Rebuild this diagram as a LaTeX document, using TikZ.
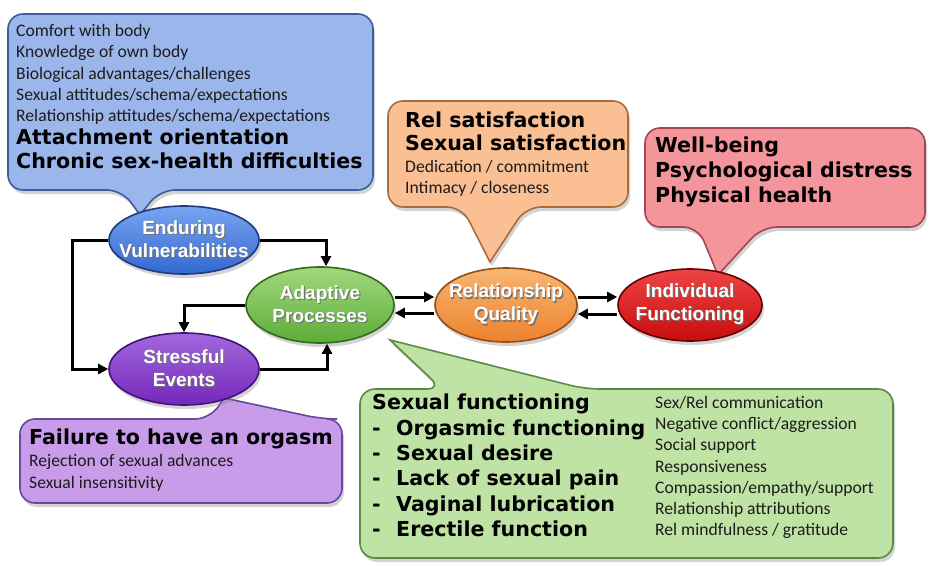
\documentclass[tikz,border=0pt]{standalone}
\usepackage{fontspec}
\setmainfont{Carlito}
\newfontfamily\heavyfont{DejaVu Sans}
\newfontfamily\blobfont{Liberation Sans}
\usetikzlibrary{shapes.geometric,shadows,arrows.meta}

% fills and outlines
\definecolor{evFill}{HTML}{3468D0}
\definecolor{evTop}{HTML}{78A4F0}
\definecolor{evLine}{HTML}{1C3A7E}
\definecolor{apFill}{HTML}{5CAC3A}
\definecolor{apTop}{HTML}{A2D87C}
\definecolor{apLine}{HTML}{356A1C}
\definecolor{seFill}{HTML}{7428BA}
\definecolor{seTop}{HTML}{A268DE}
\definecolor{seLine}{HTML}{421476}
\definecolor{rqFill}{HTML}{EC822C}
\definecolor{rqTop}{HTML}{F8B674}
\definecolor{rqLine}{HTML}{964C16}
\definecolor{ifFill}{HTML}{C80C0C}
\definecolor{ifTop}{HTML}{EE4444}
\definecolor{ifLine}{HTML}{660000}
\definecolor{blueBox}{HTML}{9BB6EA}
\definecolor{blueEdge}{HTML}{3E5C9C}
\definecolor{peachBox}{HTML}{FAC094}
\definecolor{peachEdge}{HTML}{A86C3E}
\definecolor{pinkBox}{HTML}{F4959C}
\definecolor{pinkEdge}{HTML}{A34652}
\definecolor{lilacBox}{HTML}{C99CEA}
\definecolor{lilacEdge}{HTML}{67489A}
\definecolor{mintBox}{HTML}{BEE3A4}
\definecolor{mintEdge}{HTML}{5B8B42}
\definecolor{ink}{HTML}{1C1C1C}

% white label with a soft dark offset copy behind it
\newcommand\shadedlabel[1]{\leavevmode\rlap{\kern1.2pt\raisebox{-1.2pt}{\textcolor{black!55}{#1}}}#1}

\tikzset{
  callout/.style={line width=1.6pt, rounded corners=15pt,
    drop shadow={opacity=0.35, shadow xshift=2pt, shadow yshift=-4pt}},
  blob/.style={ellipse, line width=1.6pt, inner xsep=-16pt, inner ysep=-4pt, align=center,
    text=white, font=\blobfont\bfseries\fontsize{19}{23}\selectfont,
    drop shadow={opacity=0.35, shadow xshift=2pt, shadow yshift=-4pt}},
  smalltext/.style={anchor=north west, inner sep=0pt, align=left, text=ink,
    font=\fontsize{17.6}{21.3}\selectfont},
  boldtext/.style={anchor=north west, inner sep=0pt, align=left, text=black,
    font=\heavyfont\bfseries\fontsize{20.6}{24}\selectfont},
  arr/.style={line width=3pt, -{Triangle[length=10pt,width=10pt]}},
}

\begin{document}
\begin{tikzpicture}[x=1pt,y=-1pt]
\useasboundingbox (0,0) rectangle (929,565);

% ---------- callouts (tails run under the ellipses) ----------
\draw[callout, fill=blueBox, draw=blueEdge]
  (140,215) -- (122,190) -- (8,190) -- (8,14) -- (373,14) -- (373,190) -- (160,190) [sharp corners] -- cycle;
\draw[callout, fill=peachBox, draw=peachEdge]
  (490,262) -- (462,207) -- (388,207) -- (388,101) -- (628,101) -- (628,207) -- (526,207) [sharp corners] -- cycle;
\draw[callout, fill=pinkBox, draw=pinkEdge]
  (718,275) -- (698,227) -- (645,227) -- (645,128) -- (925,128) -- (925,227) -- (762,227) [sharp corners] -- cycle;
\draw[callout, fill=lilacBox, draw=lilacEdge]
  (224,398) -- (322,419) -- (342,419) -- (342,503) -- (20,503) -- (20,419) -- (210,419) [sharp corners] -- cycle;
\draw[callout, fill=mintBox, draw=mintEdge]
  (390,340) -- (585,389) -- (893,389) -- (893,558) -- (360,558) -- (360,389) -- (442,389) [sharp corners] -- cycle;

% ---------- callout texts ----------
\node[smalltext] (evlist) at (16,24) {Comfort with body\\Knowledge of own body\\Biological advantages/challenges\\Sexual attitudes/schema/expectations\\Relationship attitudes/schema/expectations};
\node[boldtext] (evkey) at (16,129) {Attachment orientation\\Chronic sex-health difficulties};

\node[boldtext, font=\heavyfont\bfseries\fontsize{20.6}{23}\selectfont] (rqkey) at (405,112) {Rel satisfaction\\Sexual satisfaction};
\node[smalltext, font=\fontsize{17.6}{21}\selectfont] (rqlist) at (405,160) {Dedication / commitment\\Intimacy / closeness};

\node[boldtext, font=\heavyfont\bfseries\fontsize{20.6}{25}\selectfont] (ifkey) at (655,137) {Well-being\\Psychological distress\\Physical health};

\node[boldtext] (sekey) at (29,429) {Failure to have an orgasm};
\node[smalltext, font=\fontsize{17.6}{22}\selectfont] (selist) at (29,454) {Rejection of sexual advances\\Sexual insensitivity};

\node[boldtext, font=\heavyfont\bfseries\fontsize{20.6}{25.3}\selectfont] (apkey) at (372,394)
  {Sexual functioning\\
   \makebox[24pt][l]{-}Orgasmic functioning\\
   \makebox[24pt][l]{-}Sexual desire\\
   \makebox[24pt][l]{-}Lack of sexual pain\\
   \makebox[24pt][l]{-}Vaginal lubrication\\
   \makebox[24pt][l]{-}Erectile function};
\node[smalltext, font=\fontsize{17.6}{21.2}\selectfont] (aplist) at (655,396)
  {Sex/Rel communication\\Negative conflict/aggression\\Social support\\Responsiveness\\Compassion/empathy/support\\Relationship attributions\\Rel mindfulness / gratitude};

% ---------- model ellipses ----------
\node[blob, minimum width=150pt, minimum height=68pt, draw=evLine, top color=evTop, bottom color=evFill]
  (ev) at (184,240) {\shadedlabel{Enduring}\\\shadedlabel{Vulnerabilities}};
\node[blob, minimum width=148pt, minimum height=76pt, draw=apLine, top color=apTop, bottom color=apFill]
  (ap) at (320,305) {\shadedlabel{Adaptive}\\\shadedlabel{Processes}};
\node[blob, minimum width=150pt, minimum height=72pt, draw=seLine, top color=seTop, bottom color=seFill]
  (se) at (184,369) {\shadedlabel{Stressful}\\\shadedlabel{Events}};
\node[blob, minimum width=142pt, minimum height=74pt, draw=rqLine, top color=rqTop, bottom color=rqFill]
  (rq) at (506,305) {\shadedlabel{Relationship}\\\shadedlabel{Quality}};
\node[blob, minimum width=144pt, minimum height=72pt, draw=ifLine, top color=ifTop, bottom color=ifFill]
  (if) at (690,305) {\shadedlabel{Individual}\\\shadedlabel{Functioning}};

% ---------- connectors ----------
\draw[arr] (ev.east) -| ([xshift=6pt]ap.north);
\draw[arr] (ev.west) -- ([xshift=-36pt]ev.west) |- (se.west);
\draw[arr] (ap.west) -| (se.north);
\draw[arr] (se.east) -| ([xshift=7pt]ap.south);
\draw[arr] ([yshift=8pt]ap.east) -- ([yshift=8pt]rq.west);
\draw[arr] ([yshift=-8pt]rq.west) -- ([yshift=-8pt]ap.east);
\draw[arr] ([yshift=8pt]rq.east) -- ([yshift=8pt]if.west);
\draw[arr] ([yshift=-9pt]if.west) -- ([yshift=-9pt]rq.east);
\end{tikzpicture}
\end{document}
